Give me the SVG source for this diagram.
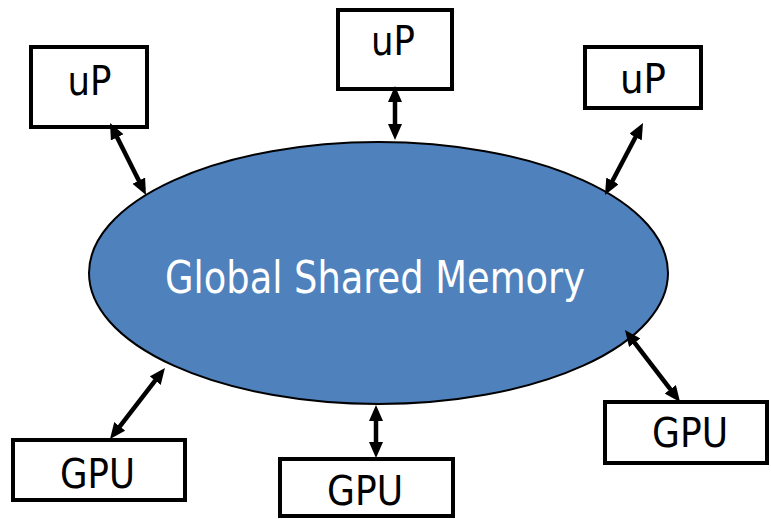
<svg xmlns="http://www.w3.org/2000/svg" width="771" height="519" viewBox="0 0 771 519">
  <style>
    .box { fill: #ffffff; stroke: #000000; stroke-width: 4; }
    .label { font-family: "DejaVu Sans Condensed", "DejaVu Sans", sans-serif; font-stretch: condensed; font-size: 40px; fill: #000000; text-anchor: middle; }
    .mem { fill: #4F81BD; stroke: #000000; stroke-width: 2; }
    .memlabel { font-family: "DejaVu Sans Condensed", "DejaVu Sans", sans-serif; font-stretch: condensed; font-size: 45px; fill: #ffffff; text-anchor: middle; }
    .link { stroke: #000000; stroke-width: 4.5; fill: none; marker-start: url(#head); marker-end: url(#head); }
  </style>
  <defs>
    <marker id="head" markerUnits="userSpaceOnUse" markerWidth="16" markerHeight="14" refX="10" refY="7" orient="auto-start-reverse">
      <path d="M0,0 L16,7 L0,14 z" fill="#000000"/>
    </marker>
  </defs>

  <rect width="771" height="519" fill="#ffffff"/>

  <g id="memory">
    <ellipse class="mem" cx="378.5" cy="273" rx="289.5" ry="131"/>
    <text class="memlabel" x="375" y="293" textLength="420" lengthAdjust="spacingAndGlyphs">Global Shared Memory</text>
  </g>

  <g id="up-left">
    <rect class="box" x="31" y="47" width="116" height="80"/>
    <text class="label" x="89.5" y="95" textLength="44" lengthAdjust="spacingAndGlyphs">uP</text>
  </g>

  <g id="up-top">
    <rect class="box" x="338" y="10" width="114" height="79"/>
    <text class="label" x="393" y="55" textLength="44" lengthAdjust="spacingAndGlyphs">uP</text>
  </g>

  <g id="up-right">
    <rect class="box" x="585" y="47" width="116" height="61"/>
    <text class="label" x="643" y="93" textLength="46" lengthAdjust="spacingAndGlyphs">uP</text>
  </g>

  <g id="gpu-left">
    <rect class="box" x="13" y="440" width="172" height="60"/>
    <text class="label" x="97.5" y="488" textLength="75" lengthAdjust="spacingAndGlyphs">GPU</text>
  </g>

  <g id="gpu-bottom">
    <rect class="box" x="280" y="459" width="173" height="57"/>
    <text class="label" x="365" y="505" textLength="76" lengthAdjust="spacingAndGlyphs">GPU</text>
  </g>

  <g id="gpu-right">
    <rect class="box" x="605" y="402" width="162" height="61"/>
    <text class="label" x="690" y="447" textLength="76" lengthAdjust="spacingAndGlyphs">GPU</text>
  </g>

  <g id="connectors">
    <line class="link" x1="112.7" y1="128.4" x2="143.3" y2="189.6"/>
    <line class="link" x1="395" y1="92" x2="395" y2="134"/>
    <line class="link" x1="640.2" y1="128.3" x2="607.8" y2="189.7"/>
    <line class="link" x1="161.3" y1="372.7" x2="113.7" y2="434.3"/>
    <line class="link" x1="376" y1="411" x2="376" y2="452"/>
    <line class="link" x1="628.6" y1="334.8" x2="676.4" y2="397.2"/>
  </g>
</svg>
